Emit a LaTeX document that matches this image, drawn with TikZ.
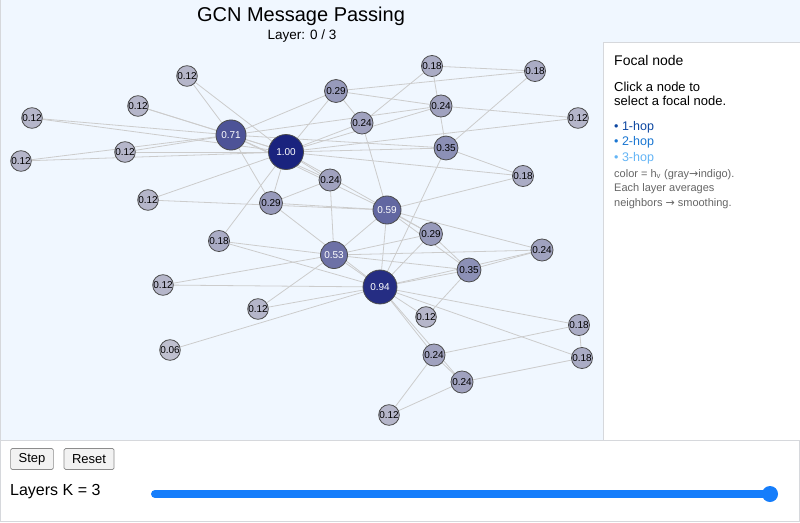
\documentclass[tikz,border=0pt]{standalone}
\usepackage{fontspec}
\setmainfont{Liberation Sans}
\newfontfamily\arrowfont{DejaVu Sans}
\usetikzlibrary{positioning}
\definecolor{panelB}{RGB}{240,247,255}
\definecolor{frameG}{RGB}{214,216,220}
\definecolor{linkG}{RGB}{204,204,204}
\definecolor{hLo}{RGB}{202,202,212}
\definecolor{hHi}{RGB}{26,35,126}
\definecolor{hopA}{RGB}{13,71,161}
\definecolor{hopB}{RGB}{25,118,210}
\definecolor{hopC}{RGB}{100,181,246}
\definecolor{noteG}{RGB}{102,102,102}
\definecolor{sliderB}{RGB}{21,125,251}
\newcommand{\pxfont}[2]{\fontsize{#1}{#2}\selectfont}
\pgfdeclarelayer{back}\pgfdeclarelayer{links}
\pgfsetlayers{back,links,main}

\begin{document}
\begin{tikzpicture}[x=1pt,y=-1pt,
  gnode/.style={circle,draw=black!70,line width=0.8pt,inner sep=0pt,font=\pxfont{10}{12}},
  link/.style={linkG,line width=0.8pt},
  btn/.style={draw=black!45,fill=black!5,rounded corners=1.5pt,line width=0.7pt,minimum height=21pt,inner xsep=8pt,font=\pxfont{13}{15}},
  txt/.style={anchor=west,inner sep=0pt}]
\useasboundingbox (0,0) rectangle (800,522);
\begin{pgfonlayer}{back}
\fill[panelB] (0,0) rectangle (800,440);
\draw[frameG,fill=white] (603.5,42.5) rectangle (800,440);
\draw[frameG,fill=white] (0.5,440.5) rectangle (799.5,521.5);
\draw[frameG] (0.5,0) -- (0.5,440);
\end{pgfonlayer}
\node[font=\pxfont{20}{23}] (title) at (301,16) {GCN Message Passing};
\node[font=\pxfont{13.5}{15}] (layer) at (302,36) {Layer: 0 / 3};
\foreach \n/\x/\y/\v in {0/380/287/0.94, 1/334/255/0.53, 2/387/210/0.59, 3/469/270/0.35, 4/579/325/0.18, 5/462/382/0.24,
  6/434/355/0.24, 7/542/250/0.24, 8/271/203/0.29, 9/148/200/0.12, 10/582/358/0.18, 11/170/350/0.06, 12/426/317/0.12,
  13/431/234/0.29, 14/187/76/0.12, 15/138/106/0.12, 16/389/415/0.12, 17/163/285/0.12, 18/32/118/0.12, 19/219/241/0.18,
  20/21/161/0.12, 21/258/309/0.12, 22/125/152/0.12, 23/336/91/0.29, 24/432/66/0.18, 25/535/71/0.18, 26/578/118/0.12,
  27/362/123/0.24, 28/523/176/0.18, 29/441/106/0.24, 30/330/180/0.24, 31/446/148/0.35, 32/231/135/0.71, 33/286/152/1.00}{
  \pgfmathtruncatemacro\pc{round(100*\v)}
  \pgfmathsetmacro\dia{18+17*\v}
  \ifdim\v pt>0.5pt\def\tc{white}\else\def\tc{black}\fi
  \node[gnode,minimum size=\dia pt,fill=hHi!\pc!hLo,text=\tc] (n\n) at (\x,\y) {\v};
}
\begin{pgfonlayer}{links}
\foreach \a/\b in {0/1,0/2,0/3,0/4,0/5,0/6,0/7,0/8,0/10,0/11,0/12,0/13,0/17,0/19,0/21,0/31,
  1/2,1/3,1/7,1/13,1/17,1/19,1/21,1/30, 2/3,2/7,2/8,2/9,2/13,2/27,2/28,2/32, 3/7,3/12,3/13,
  4/6,4/10, 5/6,5/10,5/16, 6/16, 8/30,8/32,8/33, 9/33, 13/33, 14/32,14/33, 15/32,15/33,
  18/32,18/33, 19/33, 20/32,20/33, 22/32,22/33, 23/25,23/27,23/29,23/32,23/33, 24/25,24/27,24/31,
  25/31, 26/29,26/33, 27/33, 28/31,28/33, 29/32,29/33, 30/32,30/33, 31/32,31/33, 32/33}
  \draw[link] (n\a) -- (n\b);
\end{pgfonlayer}
\node[txt,font=\pxfont{14}{16}] (focal) at (614,60) {Focal node};
\node[txt,font=\pxfont{13}{14.5},align=left] (hint) at (614,94) {Click a node to\\select a focal node.};
\node[txt,font=\pxfont{12.5}{14},text=hopA] (hop1) at (614,127) {• 1-hop};
\node[txt,font=\pxfont{12.5}{14},text=hopB] (hop2) at (614,142.5) {• 2-hop};
\node[txt,font=\pxfont{12.5}{14},text=hopC] (hop3) at (614,158) {• 3-hop};
\node[txt,font=\pxfont{11}{14.5},text=noteG,align=left] (note) at (614,189) {color = h\textsubscript{v} (gray{\arrowfont →}indigo).\\Each layer averages\\neighbors {\arrowfont →} smoothing.};
\node[btn] (stepbtn) at (32,459) {Step};
\node[btn,right=10pt of stepbtn] (resetbtn) {Reset};
\node[txt,font=\pxfont{16}{18}] (klabel) at (10,492) {Layers K = 3};
\coordinate (trackL) at (155,494); \coordinate (trackR) at (770,494);
\draw[sliderB,line width=8pt,line cap=round] (trackL) -- (trackR);
\node[circle,fill=sliderB,minimum size=16pt,inner sep=0pt] (thumb) at (trackR) {};
\end{tikzpicture}
\end{document}
